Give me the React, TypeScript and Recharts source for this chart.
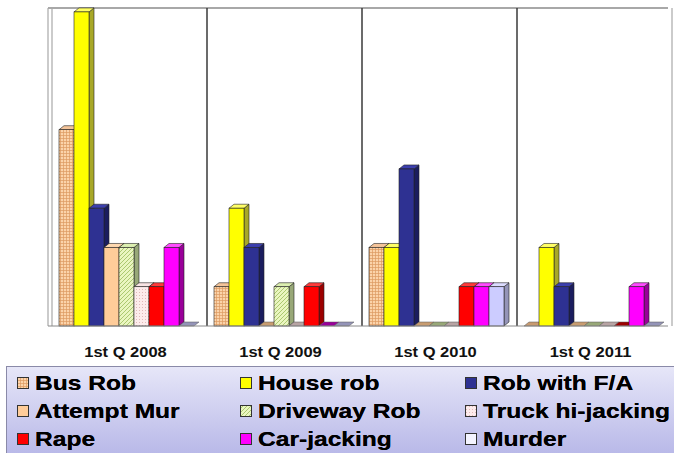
import { BarChart, Bar, XAxis, YAxis, CartesianGrid } from "recharts";

const categories = ["1st Q 2008", "1st Q 2009", "1st Q 2010", "1st Q 2011"];
const busRob = [5, 1, 2, 0];
const houseRob = [8, 3, 2, 2];
const robWithFA = [3, 2, 4, 1];
const attemptMur = [2, 0, 0, 0];
const drivewayRob = [2, 1, 0, 0];
const truckHijacking = [1, 0, 0, 0];
const rape = [1, 1, 1, 0];
const carJacking = [2, 0, 1, 1];
const murder = [0, 0, 1, 0];

type Series = {
  key: string;
  name: string;
  fill: string;
  top: string;
  side: string;
};

const series: Series[] = [
  { key: "busRob", name: "Bus Rob", fill: "url(#pat-grid)", top: "#f4c49a", side: "#c89a70" },
  { key: "houseRob", name: "House rob", fill: "#ffff00", top: "#ffff66", side: "#a8a828" },
  { key: "robWithFA", name: "Rob with F/A", fill: "#2e3192", top: "#3c3fae", side: "#1b1d5e" },
  { key: "attemptMur", name: "Attempt Mur", fill: "#ffcc99", top: "#ffd9b0", side: "#c89c70" },
  { key: "drivewayRob", name: "Driveway Rob", fill: "url(#pat-hatch)", top: "#dcefb0", side: "#98a878" },
  { key: "truckHijacking", name: "Truck hi-jacking", fill: "url(#pat-dots)", top: "#f8e4e4", side: "#b8a4a4" },
  { key: "rape", name: "Rape", fill: "#ff0000", top: "#ff3a3a", side: "#9c0000" },
  { key: "carJacking", name: "Car-jacking", fill: "#ff00ff", top: "#ff4cff", side: "#990099" },
  { key: "murder", name: "Murder", fill: "#ccccff", top: "#dcdcff", side: "#9494b8" },
];

const values: Record<string, number[]> = {
  busRob,
  houseRob,
  robWithFA,
  attemptMur,
  drivewayRob,
  truckHijacking,
  rape,
  carJacking,
  murder,
};

const data = categories.map((q, i) => {
  const row: Record<string, string | number> = { quarter: q };
  series.forEach((s) => (row[s.key] = values[s.key][i]));
  return row;
});

// legend order, three columns read row by row
const legendRows = [
  ["busRob", "houseRob", "robWithFA"],
  ["attemptMur", "drivewayRob", "truckHijacking"],
  ["rape", "carJacking", "murder"],
];
const legendSwatch: Record<string, string> = {
  murder: "#f4f4ff",
};

const DX = 5;
const DY = 4;

const Bar3D = (props: any) => {
  const { x, y, width, height, s } = props;
  if (x == null || y == null) return null;
  const w = width;
  const h = Math.max(0, height || 0);
  const stroke = "#222";
  if (h < 0.5) {
    return (
      <polygon
        points={`${x},${y + h} ${x + DX},${y + h - DY} ${x + w + DX},${y + h - DY} ${x + w},${y + h}`}
        fill={s.side}
        stroke="#555"
        strokeWidth={0.5}
      />
    );
  }
  return (
    <g>
      <polygon
        points={`${x + w},${y} ${x + w + DX},${y - DY} ${x + w + DX},${y + h - DY} ${x + w},${y + h}`}
        fill={s.side}
        stroke={stroke}
        strokeWidth={0.6}
      />
      <polygon
        points={`${x},${y} ${x + DX},${y - DY} ${x + w + DX},${y - DY} ${x + w},${y}`}
        fill={s.top}
        stroke={stroke}
        strokeWidth={0.6}
      />
      <rect x={x} y={y} width={w} height={h} fill={s.fill} stroke={stroke} strokeWidth={0.6} />
    </g>
  );
};

const QuarterTick = (props: any) => {
  const { x, y, payload } = props;
  return (
    <text
      transform={`translate(${x},${y + 23}) scale(1.18,1)`}
      textAnchor="middle"
      fontFamily="'Liberation Sans', Arial, sans-serif"
      fontWeight="bold"
      fontSize={14}
      fill="#111"
    >
      {payload.value}
    </text>
  );
};

const plotWidth = (p: any) => {
  const o = p.offset || {};
  return o.width != null ? o.width : p.width - (o.left || 0) - (o.right || 0);
};

const dividers = (p: any) => {
  const w = plotWidth(p);
  const n = categories.length;
  const out: number[] = [];
  for (let i = 1; i < n; i++) out.push(p.offset.left + DX - 1 + (i * w) / n);
  return out;
};

const walls = (p: any) => {
  const w = plotWidth(p);
  return [p.offset.left, p.offset.left + DX - 1, p.offset.left + w + DX - 1];
};

const topLine = (p: any) => [p.offset.top];

const Patterns = () => (
  <svg width={0} height={0} style={{ position: "absolute" }}>
    <defs>
      <pattern id="pat-grid" width={3} height={3} patternUnits="userSpaceOnUse">
        <rect width={3} height={3} fill="#fbd3aa" />
        <path d="M0 0.5 H3 M0.5 0 V3" stroke="#dc9a62" strokeWidth={0.7} />
      </pattern>
      <pattern id="pat-hatch" width={4} height={4} patternUnits="userSpaceOnUse">
        <rect width={4} height={4} fill="#eaf6c0" />
        <path d="M-1 5 L5 -1 M-1 1 L1 -1 M3 5 L5 3" stroke="#9cbc5c" strokeWidth={0.8} />
      </pattern>
      <pattern id="pat-dots" width={3} height={3} patternUnits="userSpaceOnUse">
        <rect width={3} height={3} fill="#fdecec" />
        <circle cx={1.5} cy={1.5} r={0.5} fill="#d8a8a8" />
      </pattern>
    </defs>
  </svg>
);

const Legend3 = () => (
  <div
    style={{
      position: "absolute",
      left: 6,
      top: 366,
      width: 680,
      height: 90,
      boxSizing: "border-box",
      border: "1px solid #8a8aa8",
      background: "linear-gradient(#e6e6f8, #b8b8e8)",
      fontFamily: "'Liberation Sans', Arial, sans-serif",
      fontWeight: "bold",
      fontSize: 21,
      color: "#000",
    }}
  >
    {legendRows.map((row, r) =>
      row.map((key, c) => {
        const s = series.find((q) => q.key === key)!;
        const left = [10, 233, 458][c];
        return (
          <div
            key={key}
            style={{
              position: "absolute",
              left,
              top: 3 + r * 28,
              height: 26,
              display: "flex",
              alignItems: "center",
              whiteSpace: "nowrap",
            }}
          >
            <svg width={12} height={12} style={{ marginRight: 6, flex: "none" }}>
              <rect
                x={0.5}
                y={0.5}
                width={11}
                height={11}
                fill={legendSwatch[key] || s.fill}
                stroke="#333"
                strokeWidth={1}
              />
            </svg>
            <span
              style={{
                display: "inline-block",
                transform: "scaleX(1.17)",
                transformOrigin: "left center",
                textShadow: "0 0 0.6px #000",
              }}
            >
              {s.name}
            </span>
          </div>
        );
      })
    )}
  </div>
);

export default function App() {
  return (
    <div style={{ position: "absolute", left: 0, top: 0, width: 674, height: 453, background: "#fff", overflow: "hidden" }}>
      <Patterns />
      <BarChart
        width={674}
        height={360}
        data={data}
        margin={{ top: 8, right: 6, left: 48, bottom: 0 }}
        barCategoryGap={11}
        barGap={0}
      >
        <CartesianGrid horizontal={false} verticalCoordinatesGenerator={walls} stroke="#a8a8a8" strokeWidth={1.2} />
        <CartesianGrid vertical={false} horizontalCoordinatesGenerator={topLine} stroke="#a8a8a8" strokeWidth={2} />
        <CartesianGrid horizontal={false} verticalCoordinatesGenerator={dividers} stroke="#3a3a3a" strokeWidth={1.5} />
        <XAxis
          dataKey="quarter"
          height={34}
          axisLine={{ stroke: "#888" }}
          tickLine={false}
          tick={<QuarterTick />}
          interval={0}
        />
        <YAxis hide domain={[0, 8.1]} />
        {series.map((s) => (
          <Bar
            key={s.key}
            dataKey={s.key}
            name={s.name}
            fill={s.fill}
            isAnimationActive={false}
            shape={(p: any) => <Bar3D {...p} s={s} />}
          />
        ))}
      </BarChart>
      <Legend3 />
    </div>
  );
}
